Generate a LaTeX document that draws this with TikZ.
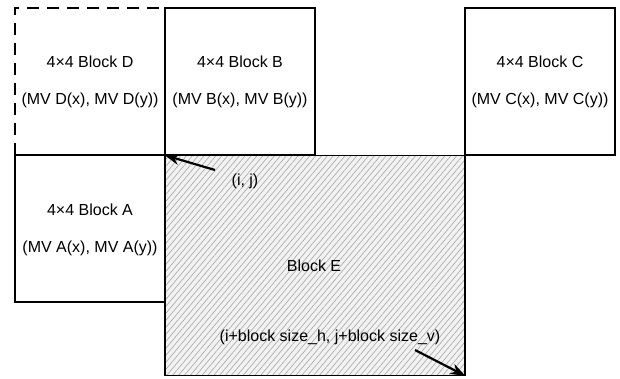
\documentclass[tikz,border=0pt]{standalone}
\usepackage{fontspec}
\setmainfont{Liberation Sans}
\usetikzlibrary{patterns,patterns.meta,arrows.meta}
\begin{document}
\begin{tikzpicture}[x=1pt,y=-1pt,
  blk/.style={draw=black,line width=1.8pt,minimum width=150pt,minimum height=147pt,inner sep=0pt},
  txt/.style={font=\fontsize{16}{19}\selectfont,inner sep=0pt},
  ptr/.style={line width=2.2pt,-{Stealth[length=15pt,width=11pt]}}]
\useasboundingbox (0,0) rectangle (620,378);
% Block E (hatched)
\node[blk,minimum width=300pt,minimum height=220pt,
  preaction={fill=gray!10},pattern={Lines[angle=50,distance=4.5pt,line width=0.6pt]},pattern color=gray!70] (E) at (315,265.5) {};
% Block D (dashed top and left)
\node[draw=none,minimum width=150pt,minimum height=147pt,inner sep=0pt] (D) at (90,81.5) {};
\draw[line width=1.8pt,dash pattern=on 12pt off 8pt] (D.south west) -- (D.north west) -- (D.north east);
\node[blk] (B) at (240,81.5) {};
\node[blk] (C) at (540,81.5) {};
\node[blk] (A) at (90,228.5) {};
% texts
\node[txt] (Dt) at (90,62) {4×4 Block D};
\node[txt] (Dm) at (90,100) {(MV D(x), MV D(y))};
\node[txt] (Bt) at (240,62) {4×4 Block B};
\node[txt] (Bm) at (240,100) {(MV B(x), MV B(y))};
\node[txt] (Ct) at (540,62) {4×4 Block C};
\node[txt] (Cm) at (540,100) {(MV C(x), MV C(y))};
\node[txt] (At) at (90,210) {4×4 Block A};
\node[txt] (Am) at (90,248) {(MV A(x), MV A(y))};
\node[txt] (Et) at (314,266) {Block E};
\node[txt] (ij) at (245,181) {(i, j)};
\node[txt] (br) at (330,337) {(i+block size\_h, j+block size\_v)};
% arrows
\coordinate (t1) at (215,170);
\coordinate (t2) at (415,350);
\draw[ptr] (t1) -- (E.north west);
\draw[ptr] (t2) -- (E.south east);
\end{tikzpicture}
\end{document}
